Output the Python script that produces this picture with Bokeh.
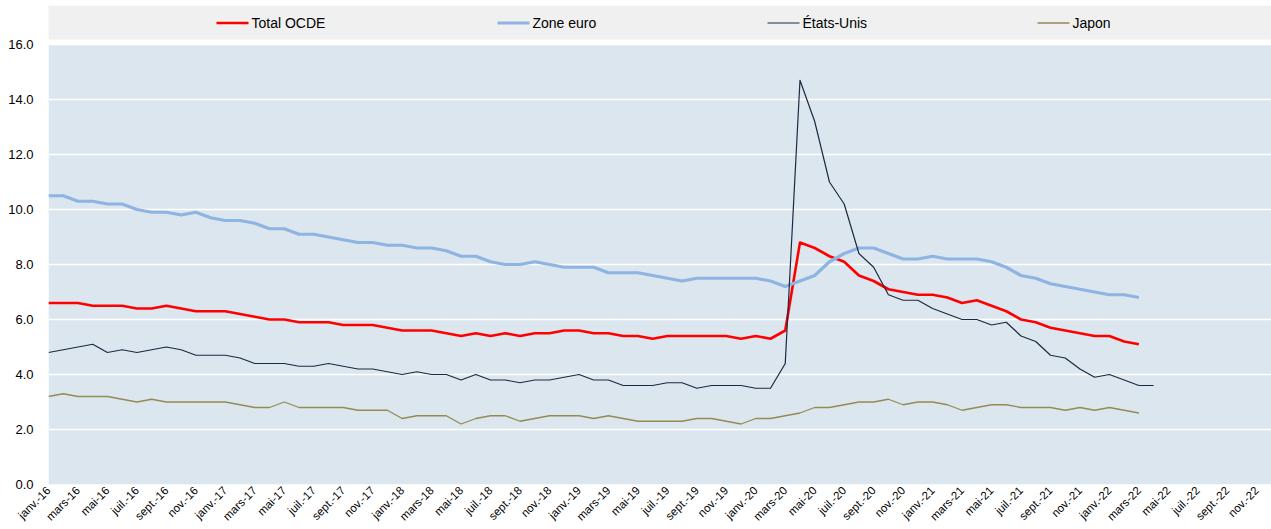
import math
from bokeh.plotting import figure
from bokeh.models import Range1d, FixedTicker, NumeralTickFormatter, ColumnDataSource
from bokeh.embed import file_html
from bokeh.resources import INLINE
from bokeh.core.properties import value

# ---------------- data ----------------
month_names = ["janv.", "févr.", "mars", "avr.", "mai", "juin",
               "juil.", "août", "sept.", "oct.", "nov.", "déc."]
years = ["16", "17", "18", "19", "20", "21", "22"]
categories = [f"{m}-{y}" for y in years for m in month_names]  # janv.-16 .. déc.-22

series_names = ["Total OCDE", "Zone euro", "États-Unis", "Japon"]

total_ocde = [6.6, 6.6, 6.6, 6.5, 6.5, 6.5, 6.4, 6.4, 6.5, 6.4, 6.3, 6.3,
              6.3, 6.2, 6.1, 6.0, 6.0, 5.9, 5.9, 5.9, 5.8, 5.8, 5.8, 5.7,
              5.6, 5.6, 5.6, 5.5, 5.4, 5.5, 5.4, 5.5, 5.4, 5.5, 5.5, 5.6,
              5.6, 5.5, 5.5, 5.4, 5.4, 5.3, 5.4, 5.4, 5.4, 5.4, 5.4, 5.3,
              5.4, 5.3, 5.6, 8.8, 8.6, 8.3, 8.1, 7.6, 7.4, 7.1, 7.0, 6.9,
              6.9, 6.8, 6.6, 6.7, 6.5, 6.3, 6.0, 5.9, 5.7, 5.6, 5.5, 5.4,
              5.4, 5.2, 5.1]

zone_euro = [10.5, 10.5, 10.3, 10.3, 10.2, 10.2, 10.0, 9.9, 9.9, 9.8, 9.9, 9.7,
             9.6, 9.6, 9.5, 9.3, 9.3, 9.1, 9.1, 9.0, 8.9, 8.8, 8.8, 8.7,
             8.7, 8.6, 8.6, 8.5, 8.3, 8.3, 8.1, 8.0, 8.0, 8.1, 8.0, 7.9,
             7.9, 7.9, 7.7, 7.7, 7.7, 7.6, 7.5, 7.4, 7.5, 7.5, 7.5, 7.5,
             7.5, 7.4, 7.2, 7.4, 7.6, 8.1, 8.4, 8.6, 8.6, 8.4, 8.2, 8.2,
             8.3, 8.2, 8.2, 8.2, 8.1, 7.9, 7.6, 7.5, 7.3, 7.2, 7.1, 7.0,
             6.9, 6.9, 6.8]

etats_unis = [4.8, 4.9, 5.0, 5.1, 4.8, 4.9, 4.8, 4.9, 5.0, 4.9, 4.7, 4.7,
              4.7, 4.6, 4.4, 4.4, 4.4, 4.3, 4.3, 4.4, 4.3, 4.2, 4.2, 4.1,
              4.0, 4.1, 4.0, 4.0, 3.8, 4.0, 3.8, 3.8, 3.7, 3.8, 3.8, 3.9,
              4.0, 3.8, 3.8, 3.6, 3.6, 3.6, 3.7, 3.7, 3.5, 3.6, 3.6, 3.6,
              3.5, 3.5, 4.4, 14.7, 13.2, 11.0, 10.2, 8.4, 7.9, 6.9, 6.7, 6.7,
              6.4, 6.2, 6.0, 6.0, 5.8, 5.9, 5.4, 5.2, 4.7, 4.6, 4.2, 3.9,
              4.0, 3.8, 3.6, 3.6]

japon = [3.2, 3.3, 3.2, 3.2, 3.2, 3.1, 3.0, 3.1, 3.0, 3.0, 3.0, 3.0,
         3.0, 2.9, 2.8, 2.8, 3.0, 2.8, 2.8, 2.8, 2.8, 2.7, 2.7, 2.7,
         2.4, 2.5, 2.5, 2.5, 2.2, 2.4, 2.5, 2.5, 2.3, 2.4, 2.5, 2.5,
         2.5, 2.4, 2.5, 2.4, 2.3, 2.3, 2.3, 2.3, 2.4, 2.4, 2.3, 2.2,
         2.4, 2.4, 2.5, 2.6, 2.8, 2.8, 2.9, 3.0, 3.0, 3.1, 2.9, 3.0,
         3.0, 2.9, 2.7, 2.8, 2.9, 2.9, 2.8, 2.8, 2.8, 2.7, 2.8, 2.7,
         2.8, 2.7, 2.6]

y_ticks = [0, 2, 4, 6, 8, 10, 12, 14, 16]

# ---------------- layout / style ----------------
FONT = "Liberation Sans"
W, H = 1271, 529
BORDER_L, BORDER_R, BORDER_T, BORDER_B = 48, 0, 5, 45
FRAME_W = W - BORDER_L - BORDER_R
FRAME_H = H - BORDER_T - BORDER_B
X_MAX = len(categories) - 1
Y_TOP_VALUE = 16
PLOT_AREA_TOP_PX = 44          # page y of the value 16.0
Y_MAX = Y_TOP_VALUE * FRAME_H / (H - BORDER_B - PLOT_AREA_TOP_PX)

colors = ["#FF0000", "#8DB4E2", "#1B2A41", "#948A54"]
widths = [2.6, 3.2, 1.2, 1.3]
all_series = [total_ocde, zone_euro, etats_unis, japon]


def px_to_x(px):
    return (px - BORDER_L) * X_MAX / FRAME_W


def py_to_y(py):
    return (H - BORDER_B - py) * Y_MAX / FRAME_H


p = figure(width=W, height=H, output_backend="svg", toolbar_location=None,
           x_range=Range1d(0, X_MAX), y_range=Range1d(0, Y_MAX),
           min_border_left=BORDER_L, min_border_right=BORDER_R,
           min_border_top=BORDER_T, min_border_bottom=BORDER_B)
p.outline_line_color = None
p.background_fill_color = "white"
p.border_fill_color = "white"

# plot-area background (below grid)
p.quad(left=[0], right=[X_MAX], bottom=[0], top=[Y_TOP_VALUE],
       fill_color="#DCE6EE", line_color=None, level="image")

# legend band
p.quad(left=[px_to_x(46)], right=[X_MAX], bottom=[py_to_y(39)], top=[Y_MAX],
       fill_color="#F0F0F0", line_color=None, level="image")

leg_px = [216, 497, 767, 1037]
ly = py_to_y(22.5)
for name, c, wd, x0 in zip(series_names, colors, widths, leg_px):
    p.segment(x0=[px_to_x(x0)], y0=[ly], x1=[px_to_x(x0 + 32)], y1=[ly],
              line_color=c, line_width=wd)
    p.text(x=[px_to_x(x0 + 35)], y=[ly], text=[name], text_font=value(FONT),
           text_font_size="14px", text_baseline="middle", text_align="left",
           text_color="#000000")

for vals, c, wd in zip(all_series, colors, widths):
    src = ColumnDataSource(dict(x=list(range(len(vals))), y=vals))
    p.line("x", "y", source=src, line_color=c, line_width=wd, line_join="round")

# y axis
p.yaxis.ticker = FixedTicker(ticks=y_ticks)
p.yaxis.formatter = NumeralTickFormatter(format="0.0")
p.yaxis.axis_line_color = None
p.yaxis.major_tick_line_color = None
p.yaxis.minor_tick_line_color = None
p.yaxis.major_tick_out = 0
p.yaxis.major_tick_in = 0
p.yaxis.major_label_standoff = 15
p.yaxis.major_label_text_font = FONT
p.yaxis.major_label_text_font_size = "13px"
p.yaxis.major_label_text_color = "#000000"

# x axis
tick_idx = list(range(0, len(categories), 2))
p.xaxis.ticker = FixedTicker(ticks=tick_idx)
p.xaxis.major_label_overrides = {i: categories[i] for i in tick_idx}
p.xaxis.major_label_orientation = math.pi / 4
p.xaxis.axis_line_color = None
p.xaxis.major_tick_line_color = None
p.xaxis.minor_tick_line_color = None
p.xaxis.major_tick_out = 0
p.xaxis.major_tick_in = 0
p.xaxis.major_label_standoff = 4
p.xaxis.major_label_text_font = FONT
p.xaxis.major_label_text_font_size = "11.5px"
p.xaxis.major_label_text_color = "#000000"

p.xgrid.visible = False
p.ygrid.ticker = FixedTicker(ticks=y_ticks)
p.ygrid.grid_line_color = "white"
p.ygrid.grid_line_width = 1.3

open("out.html", "w").write(file_html(p, INLINE))
